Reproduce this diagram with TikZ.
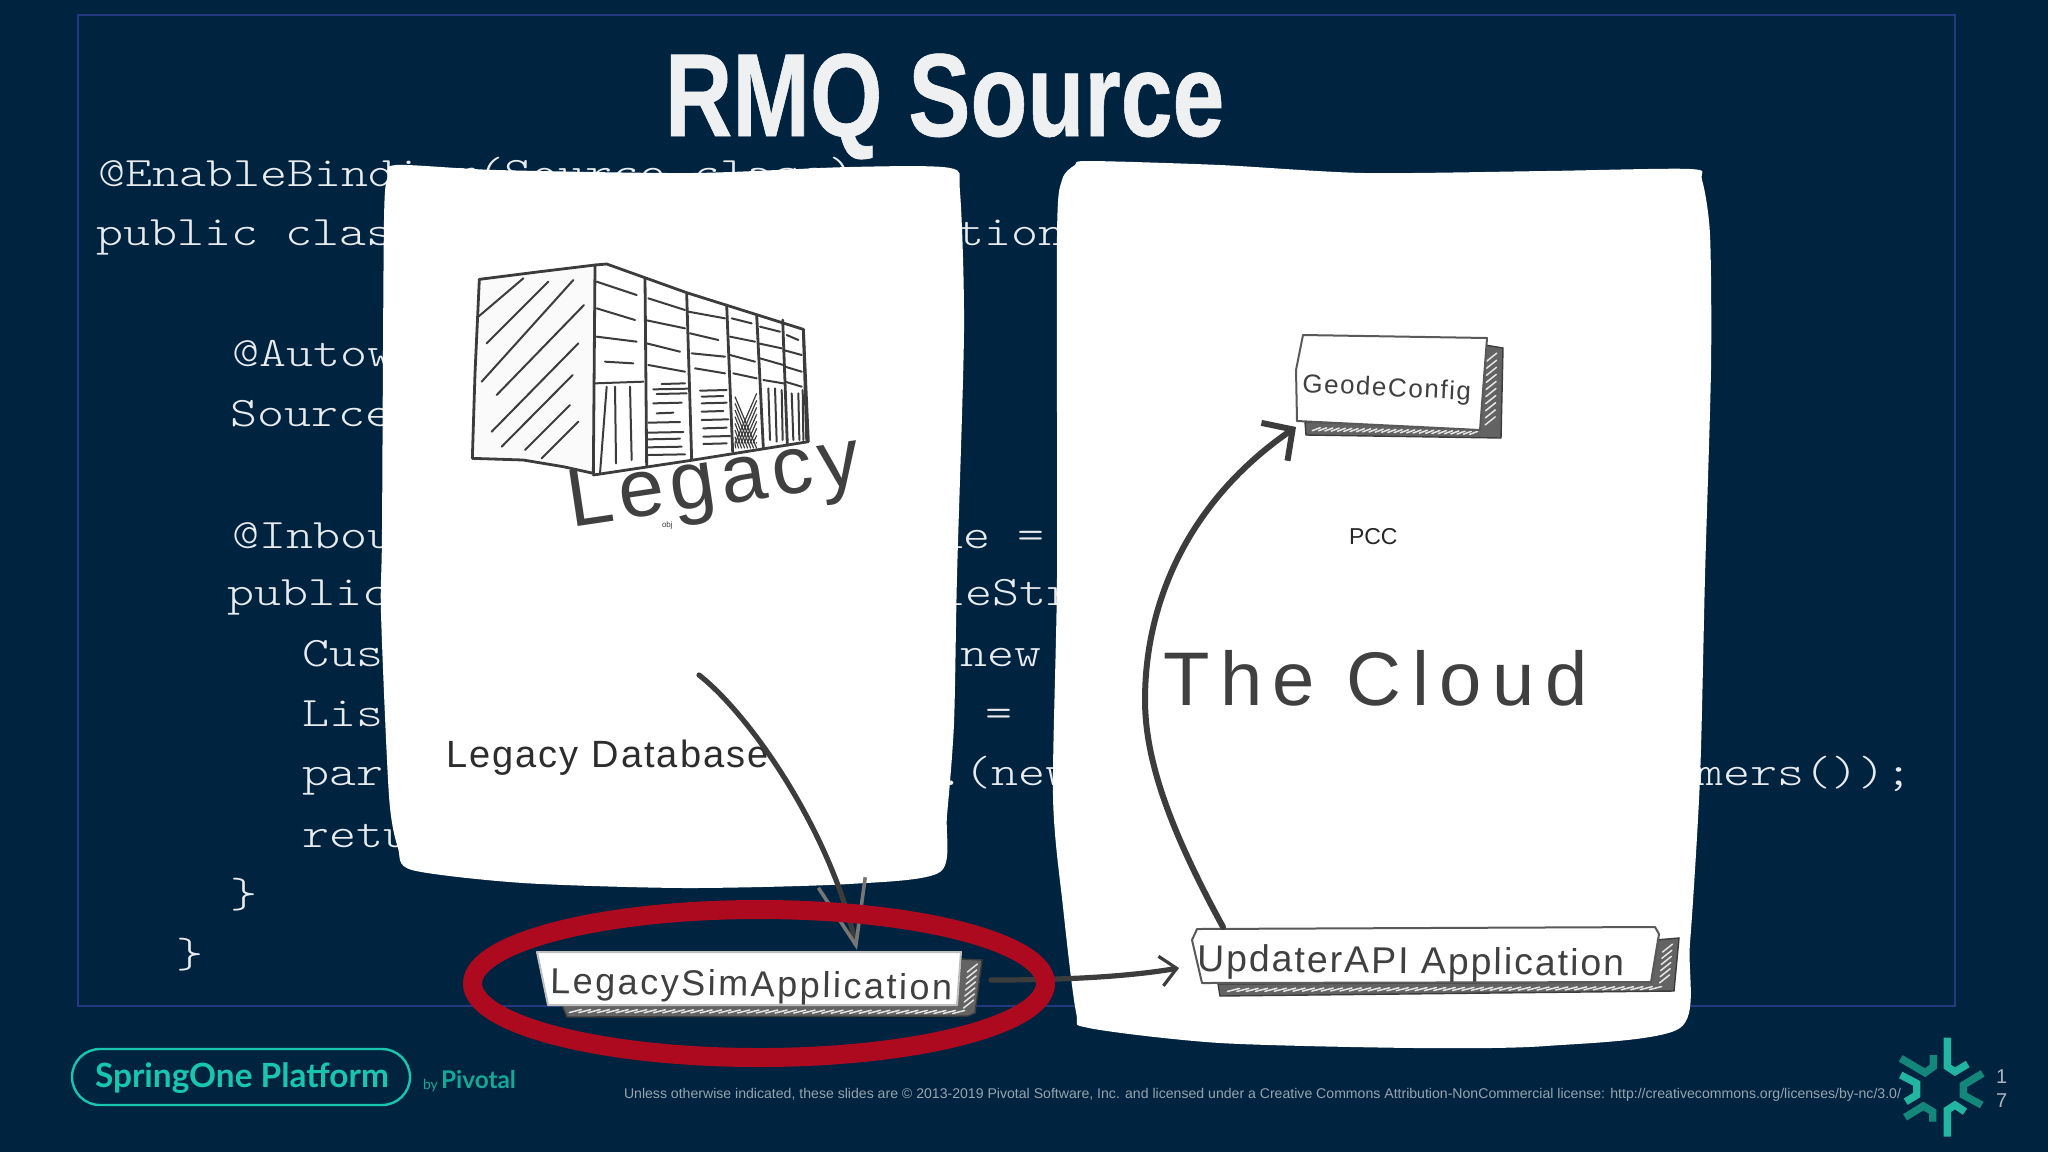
\documentclass[tikz,border=0pt]{standalone}
\usepackage{fontspec}
\usepackage{graphicx}
\setmainfont{Liberation Sans}
\newfontfamily\latofont{Lato}
\newfontfamily\codefont{Latin Modern Mono Light}
\usetikzlibrary{arrows.meta,calc}
\definecolor{bgnavy}{HTML}{00233F}
\definecolor{framebl}{HTML}{24387F}
\definecolor{codew}{HTML}{E9ECEF}
\definecolor{titlew}{HTML}{EFF0F2}
\definecolor{inkgr}{HTML}{404040}
\definecolor{sketch}{HTML}{3C3C3C}
\definecolor{ringred}{HTML}{AD0A1F}
\definecolor{teal}{HTML}{18C6B0}
\definecolor{logolt}{HTML}{22B5A2}
\definecolor{logodk}{HTML}{12877A}
\definecolor{footgr}{HTML}{97A3AF}
\tikzset{
  txt/.style={anchor=base west,inner sep=0pt,outer sep=0pt},
  codetext/.style={txt,text=codew,font=\codefont\fontsize{21}{21}\selectfont},
  paper/.style={fill=white,draw=none},
  boxline/.style={draw=sketch!85,line width=1pt,fill=white,line join=round},
  pen/.style={draw=sketch,line width=1pt,line cap=round},
  penb/.style={draw=sketch,line width=1.4pt,line cap=round},
  shadowfill/.style={fill=sketch!80,draw=sketch,line width=0.7pt},
  hatchw/.style={draw=white!90!black,line width=0.75pt,line cap=round},
  sketcharrow/.style={draw=sketch,line width=2.6pt,line cap=round},
  logobar/.style={line width=3.7pt,line join=miter},
}
\newcommand{\codeat}[4]{\node[codetext] (#1) at (#2,#3) {\scalebox{1.225}[1]{#4}};}
\newcommand{\hatchrow}[6]{%
  \foreach \k in {1,...,#5}{%
    \pgfmathsetmacro\hk{\k/(#5+1)}%
    \draw[hatchw] ($(#1,#2)!\hk!(#3,#4)$) ++(-#6,1.5) -- ++(2*#6,-3);
  }}
\newcommand{\hatchcol}[5]{%
  \foreach \k in {1,...,#5}{%
    \pgfmathsetmacro\hk{\k/(#5+1)}%
    \draw[hatchw] ($(#1,#2)!\hk!(#3,#4)$) ++(-5,4) -- ++(10,-8);
  }}
\begin{document}
\begin{tikzpicture}[x=0.5pt,y=-0.5pt]
\path[use as bounding box] (0,0) rectangle (2048,1152);
\fill[bgnavy] (0,0) rectangle (2048,1152);
\draw[framebl,line width=1.3pt] (78,15) rectangle (1955,1006);

% title
\node[txt,text=titlew,font=\bfseries\fontsize{59}{59}\selectfont\addfontfeature{FakeBold=0.6}] (title) at (665,136) {\scalebox{0.79}[1]{RMQ Source}};

% code
\codeat{c1}{98}{186}{@EnableBinding}
\codeat{c1b}{477}{186}{(Source.class)}
\codeat{c2}{96}{245.5}{public clas}
\codeat{c2r}{957}{245.5}{tion}
\codeat{c3}{232}{366}{@Autow}
\codeat{c4}{230}{426}{Source}
\codeat{c5}{232}{548}{@Inbou}
\codeat{c5r}{936}{548}{ue =}
\codeat{c6}{227}{605}{public}
\codeat{c6r}{938}{605}{leStr}
\codeat{c7}{302}{666}{Cus}
\codeat{c7r}{960}{666}{new}
\codeat{c8}{302}{726}{Lis}
\codeat{c8r}{985}{726}{=}
\codeat{c9}{302}{785.5}{par}
\codeat{c9r}{937}{785.5}{.(new}
\codeat{c9s}{1696}{785.5}{mers());}
\codeat{c10}{302}{847}{retu}
\codeat{c11}{230}{907}{\}}
\codeat{c12}{176}{967}{\}}

% paper panels
\fill[paper] plot[smooth cycle,tension=0.45] coordinates {
  (396,165) (496,170) (692,173) (849,167) (950,168) (960,192) (964,331) (957,576) (954,723) (947,815) (940,872)
  (849,884) (686,888) (523,883) (412,870) (398,848) (389,796) (381,613) (382,533) (384,220) (388,178)};
\fill[paper] plot[smooth cycle,tension=0.45] coordinates {
  (1075,165) (1089,161) (1220,165) (1364,173) (1546,171) (1690,169) (1702,180) (1710,235) (1711,368) (1705,576) (1700,778) (1690,943) (1680,1028)
  (1546,1046) (1416,1048) (1220,1043) (1089,1028) (1076,1012) (1063,907) (1053,796) (1057,576) (1057,235) (1062,180)};

% legacy building sketch
\begin{scope}[shift={(440,240)},x=0.16667pt,y=-0.16667pt]
  \draw[penb,line join=round,fill=white!98!black] (118,118) -- (300,95) -- (465,75) -- (460,700) -- (370,680) -- (250,660) -- (97,655) -- (105,400) -- cycle;
  \draw[penb,line join=round] (465,75) -- (500,72) -- (740,158) -- (1090,268) -- (1105,605) -- (760,660) -- (460,705);
  \foreach \a/\b/\c/\d in {115/230/250/115,140/310/325/125,125/425/400/120,170/465/432/195,155/575/415/310,185/620/398/405,255/630/390/495,305/655/415/545}
    \draw[pen] (\a,\b) -- (\c,\d);
  \foreach \a/\b/\c/\d in {615/115/620/680,740/160/755/660,860/195/878/635,950/225/970/625,1028/240/1042/615,1090/268/1100/600}
    \draw[penb] (\a,\b) -- (\c,\d);
  \foreach \a/\b/\c/\d in {470/125/590/165,470/205/585/240,470/290/590/305,495/365/580/370,
    625/175/735/210,615/240/735/265,620/310/720/335,625/375/735/395,
    745/215/855/235,750/280/835/300,755/340/855/350,765/385/855/400,
    875/235/935/250,870/290/945/305,870/345/945/365,880/400/950/415,
    960/260/1020/275,955/310/1025/325,960/355/1030/375,970/420/1030/430,
    1040/285/1075/300,1030/330/1085/345,1035/380/1085/395,1035/425/1085/440,465/430/610/425}
    \draw[pen] (\a,\b) -- (\c,\d);
  \foreach \a/\b/\c/\d in {500/440/480/700,525/440/528/670,570/440/575/660,985/445/990/600,1005/445/1010/605,1025/450/1028/600,1055/460/1060/600,1075/460/1078/600,1088/450/1090/600}
    \draw[pen] (\a,\b) -- (\c,\d);
  \foreach \y/\a/\b in {432/665/735,448/640/745,462/650/740,490/640/725,520/650/700,548/625/720,578/625/730,598/625/720,622/625/725,645/625/735,452/780/860,470/785/850,490/785/860,515/785/850,540/785/865,565/790/860,590/790/870,612/790/860}
    \draw[pen] (\a,\y) -- (\b,\y-2);
  \foreach \s in {0,...,7}{
    \draw[draw=sketch,line width=0.6pt] (885+\s*9,610) -- (950,460+\s*21);
    \draw[draw=sketch,line width=0.6pt] (885,470+\s*20) -- (950-\s*9,625);
  }
\end{scope}

% small stray label and Legacy
\node[txt,text=inkgr,font=\fontsize{4}{4}\selectfont] (objl) at (662,527) {obj};
\node[txt,text=inkgr,rotate=8.5,font=\fontsize{41}{41}\selectfont\addfontfeature{LetterSpace=7.5}] (legacy) at (571,527) {Legacy};
\node[txt,text=inkgr!70!black,font=\fontsize{19}{19}\selectfont\addfontfeature{LetterSpace=5.5}] (legacydb) at (446,767) {Legacy Database};
\node[txt,text=black!85,font=\fontsize{11.5}{11.5}\selectfont] (pcc) at (1349,544) {PCC};
\node[txt,text=inkgr,font=\fontsize{38}{38}\selectfont\addfontfeature{LetterSpace=14}] (cloud) at (1163,705) {The Cloud};

% GeodeConfig box
\fill[shadowfill] (1485,345) -- (1503,348) -- (1501,438) -- (1306,435) -- (1305,422) -- (1480,428) -- cycle;
\hatchrow{1310}{429}{1480}{433}{26}{4}
\hatchcol{1492}{350}{1490}{428}{10}
\draw[boxline] (1303,335) -- (1487,338) -- (1480,430) -- (1297,421) -- (1296,370) -- cycle;
\node[txt,text=inkgr,rotate=-2.8,font=\fontsize{13}{13}\selectfont\addfontfeature{LetterSpace=6}] (geode) at (1302,392) {GeodeConfig};

% LegacySim box
\fill[shadowfill] (961,959) -- (982,960) -- (975,1013) -- (968,1016) -- (567,1017) -- (562,1005) -- (957,1005) -- cycle;
\hatchrow{566}{1011}{968}{1012}{42}{6}
\hatchcol{973}{962}{968}{1010}{7}
\draw[boxline,draw=white!75!black] (537,952) -- (961,952) -- (957,1005) -- (548,1005) -- cycle;
\node[txt,text=inkgr,rotate=-1,font=\fontsize{18}{18}\selectfont\addfontfeature{LetterSpace=7}] (legacysim) at (550,993) {LegacySimApplication};

% Updater box
\fill[shadowfill] (1655,940) -- (1679,938) -- (1674,991) -- (1220,996) -- (1218,984) -- (1650,982) -- cycle;
\hatchrow{1224}{990}{1665}{988}{46}{6}
\hatchcol{1668}{942}{1664}{985}{6}
\draw[boxline] (1197,929) -- (1655,927) -- (1659,934) -- (1651,982) -- (1202,983) -- (1192,940) -- cycle;
\node[txt,text=inkgr,rotate=-0.7,font=\fontsize{18.7}{18.7}\selectfont\addfontfeature{LetterSpace=5.4}] (updater) at (1197,971) {UpdaterAPI Application};

% connector ends
\coordinate (legacyFrom) at (699,675);
\coordinate (simTop) at (857,950);
\coordinate (simRight) at (991,980);
\coordinate (updLeft) at (1179,968);
\coordinate (updTop) at (1223,927);
\coordinate (geoCorner) at (1296,427);

% connectors
\draw[sketcharrow,-{Straight Barb[length=32pt,width=24pt,line width=1.8pt,color=sketch!70]}]
  (legacyFrom) .. controls (750,715) and (830,830) .. (simTop);
\draw[sketcharrow,-{Straight Barb[length=8pt,width=15pt,line width=1.6pt]}]
  (simRight) .. controls (1050,980) and (1120,978) .. (updLeft);
\draw[sketcharrow,line width=3pt,-{Straight Barb[length=11pt,width=23pt,line width=3pt]}]
  (updTop) .. controls (1170,830) and (1145,760) .. (1145,700) .. controls (1145,600) and (1190,500) .. (geoCorner);

% red ring
\draw[ringred,line width=9.5pt] (759,983.5) ellipse [x radius=286.5,y radius=74];

% footer
\draw[teal,line width=1.2pt,rounded corners=14pt] (72,1049) rectangle (410,1105);
\node[txt,text=teal] (spring) at (95,1087) {\resizebox{147pt}{!}{\latofont\bfseries\fontsize{17}{17}\selectfont SpringOne Platform}};
\node[txt,text=teal!85!black,font=\latofont\fontsize{7}{7}\selectfont] (by) at (423,1089) {by};
\node[txt,text=teal!85!black] (pivotal) at (441,1088) {\resizebox{37.5pt}{!}{\latofont\bfseries\fontsize{12}{12}\selectfont Pivotal}};
\node[txt,text=footgr] (legal) at (624,1098) {\resizebox{638.5pt}{!}{\fontsize{7}{7}\selectfont Unless otherwise indicated, these slides are © 2013-2019 Pivotal Software, Inc. and licensed under a Creative Commons Attribution-NonCommercial license: http://creativecommons.org/licenses/by-nc/3.0/}};
\node[txt,text=footgr!80!white,font=\fontsize{10}{10}\selectfont] (p1) at (1996,1083) {1};
\node[txt,text=footgr!80!white,font=\fontsize{10}{10}\selectfont] (p7) at (1996,1107) {7};

% logo
\begin{scope}[shift={(1840,1020)},x=0.16667pt,y=-0.16667pt]
  \draw[logobar,logolt] (322,53) -- (322,140) -- (345,155) -- (383,132);
  \draw[logobar,logodk] (182,115) -- (255,158) -- (280,140) -- (280,105);
  \draw[logobar,logolt] (182,165) -- (230,190) -- (230,225) -- (197,245);
  \draw[logobar,logodk] (428,160) -- (370,195) -- (370,225) -- (425,255);
  \draw[logobar,logodk] (195,292) -- (250,258) -- (278,275) -- (278,305);
  \draw[logobar,logolt] (322,350) -- (322,270) -- (345,255) -- (375,275);
\end{scope}
\end{tikzpicture}
\end{document}
